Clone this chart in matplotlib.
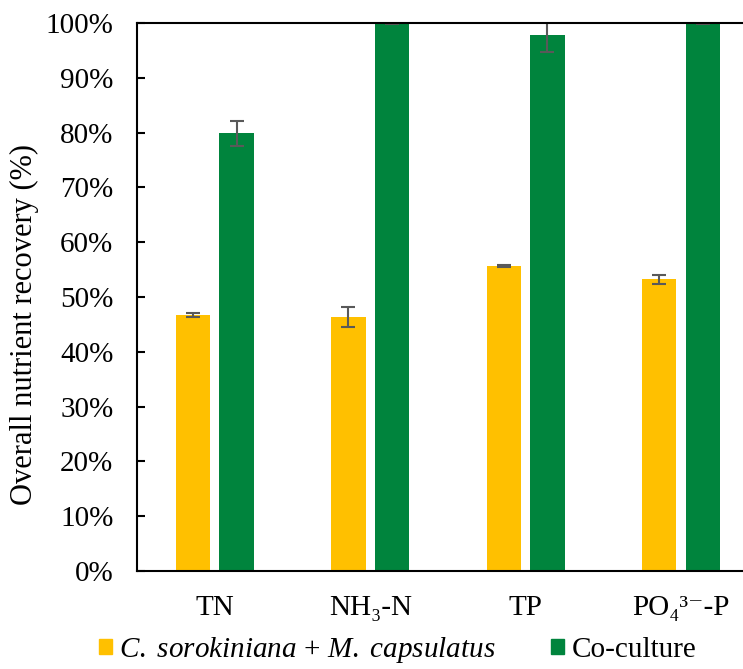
import numpy as np
import matplotlib.pyplot as plt
from matplotlib.patches import Patch
from matplotlib.ticker import PercentFormatter

plt.rcParams['font.family'] = ['Liberation Serif', 'DejaVu Serif']
plt.rcParams['mathtext.fontset'] = 'custom'
plt.rcParams['mathtext.rm'] = 'Liberation Serif'
plt.rcParams['mathtext.it'] = 'Liberation Serif:italic'

categories = ['TN', 'NH\u2083-N', 'TP', 'PO\u2084\u00b3\u207b-P']
single = [46.7, 46.4, 55.7, 53.2]
single_err = [0.4, 1.8, 0.15, 0.85]
coculture = [79.9, 100.0, 97.8, 100.0]
coculture_err = [2.3, 0.2, 3.1, 0.2]

yellow = '#FFC000'
green = '#00843D'
errc = '#595959'

fig = plt.figure(figsize=(7.43, 6.69), dpi=100)
ax = fig.add_axes([0.1844, 0.1465, 0.837, 0.8191])

x = np.arange(len(categories))
w = 0.22
off = 0.14
ekw = dict(ecolor=errc, elinewidth=1.5, capsize=5, capthick=1.5)
ax.bar(x - off, single, w, color=yellow, yerr=single_err, error_kw=ekw)
ax.bar(x + off, coculture, w, color=green, yerr=coculture_err, error_kw=ekw)

ax.set_xlim(-0.5, len(categories) - 0.5)
ax.set_ylim(0, 100)
ax.set_yticks(np.arange(0, 101, 10))
ax.yaxis.set_major_formatter(PercentFormatter(decimals=0))
ax.set_xticks(x)
ax.set_xticklabels(categories)
ax.tick_params(axis='x', length=0, pad=17, labelsize=21)
ax.tick_params(axis='y', direction='in', length=6, width=1.5, labelsize=21, pad=17)
for s in ['left', 'bottom', 'top']:
    ax.spines[s].set_linewidth(1.5)
    ax.spines[s].set_color('black')
ax.spines['right'].set_visible(False)
ax.set_ylabel('Overall nutrient recovery (%)', fontsize=22)
ax.yaxis.set_label_coords(-0.158, 0.45)

handles = [Patch(color=yellow), Patch(color=green)]
labels = [r'$\it{C.\ sorokiniana}$ + $\it{M.\ capsulatus}$', 'Co-culture']
fig.legend(handles, labels, loc='lower center', ncol=2, frameon=False,
           bbox_to_anchor=(0.535, -0.02), borderpad=0.1, fontsize=21,
           handlelength=0.45, handleheight=0.45, handletextpad=0.25,
           columnspacing=1.9)

fig.savefig('out.png', dpi=100)
